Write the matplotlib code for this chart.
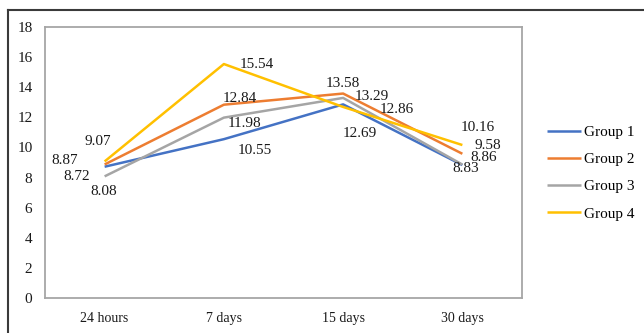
import matplotlib
matplotlib.use("Agg")
import matplotlib.pyplot as plt
from matplotlib.lines import Line2D

plt.rcParams['font.family'] = ['Liberation Serif', 'DejaVu Serif']

categories = ["24 hours", "7 days", "15 days", "30 days"]
group1 = [8.72, 10.55, 12.86, 8.83]
group2 = [8.87, 12.84, 13.58, 9.58]
group3 = [8.08, 11.98, 13.29, 8.86]
group4 = [9.07, 15.54, 12.69, 10.16]
series_names = ["Group 1", "Group 2", "Group 3", "Group 4"]
yticks = [0, 2, 4, 6, 8, 10, 12, 14, 16, 18]

colors = ["#4472C4", "#ED7D31", "#A5A5A5", "#FFC000"]
series = [group1, group2, group3, group4]

# label offsets in pixels (dx, dy up), one per point of each series
offsets = [
    [(-28, -10), (31, -11), (54, -5), (3, -3)],
    [(-40, 4), (16, 6), (0, 10), (25, 8)],
    [(-1, -15), (21, -6), (29, 1), (21, 7)],
    [(-7, 20), (33, 0), (17, -27), (15, 18)],
]

fig = plt.figure(figsize=(6.44, 3.33), dpi=100)
W, H = 644, 333
ax = fig.add_axes([45 / W, 1 - 298 / H, (522 - 45) / W, (298 - 27) / H])

x = list(range(len(categories)))
for vals, name, c in zip(series, series_names, colors):
    ax.plot(x, vals, color=c, lw=1.8, label=name, solid_capstyle='butt')

pt = 72 / 100
for vals, offs in zip(series, offsets):
    for xi, v, (dx, dy) in zip(x, vals, offs):
        ax.annotate(f"{v:.2f}", (xi, v), xytext=(dx * pt, dy * pt),
                    textcoords='offset points', ha='center', va='center',
                    fontsize=11, color='#1a1a1a')

ax.set_xlim(-0.5, 3.5)
ax.set_ylim(0, 18)
ax.set_yticks(yticks)
ax.set_xticks(x)
ax.set_xticklabels(categories)
ax.tick_params(length=0, colors='#1a1a1a')
ax.tick_params(axis='y', pad=9, labelsize=11)
ax.tick_params(axis='x', pad=10, labelsize=10)
for s in ax.spines.values():
    s.set_color('#A6A6A6')
    s.set_linewidth(1.3)

ax.legend(loc='center left', bbox_to_anchor=(547 / W, 1 - 173 / H),
          bbox_transform=fig.transFigure, frameon=False, fontsize=11,
          handlelength=2.2, handletextpad=0.25, labelspacing=0.88,
          borderaxespad=0, borderpad=0)

# outer chart frame (top and left edges)
fig.add_artist(Line2D([8 / W, 8 / W], [0, 1 - 10 / H], transform=fig.transFigure,
                      color='#3a3a3a', lw=1.5))
fig.add_artist(Line2D([8 / W, 1], [1 - 10 / H, 1 - 10 / H], transform=fig.transFigure,
                      color='#3a3a3a', lw=1.5))

fig.savefig("out.png", dpi=100)
